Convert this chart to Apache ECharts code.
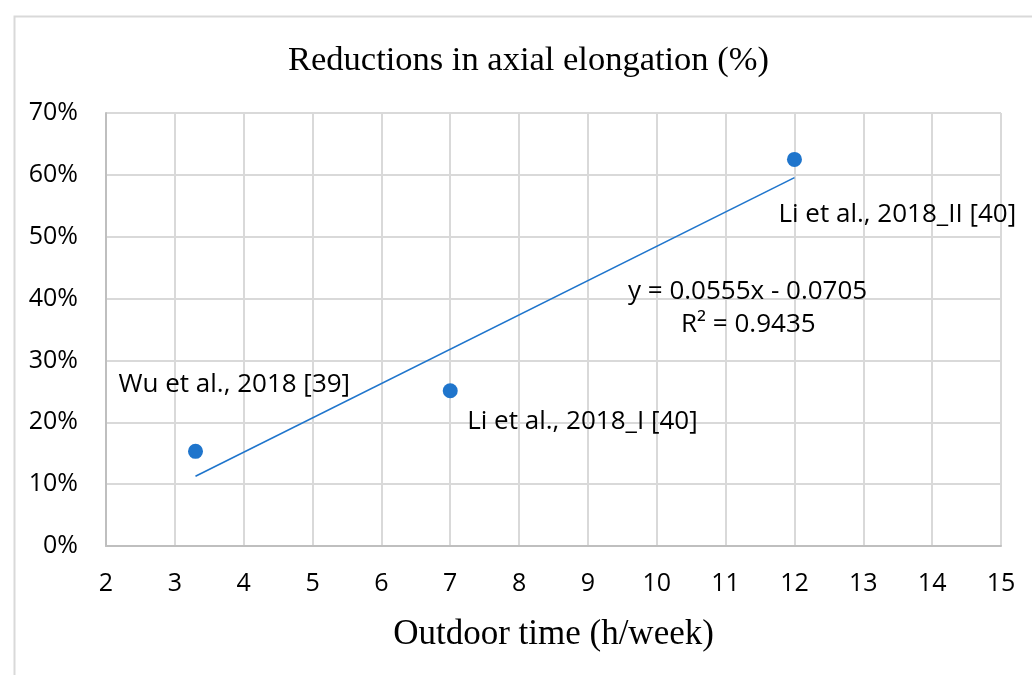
<!DOCTYPE html>
<html><head><meta charset="utf-8">
<script src="https://cdn.jsdelivr.net/npm/echarts@6/dist/echarts.min.js"></script>
<style>html,body{margin:0;padding:0;background:#fff}#c{width:1032px;height:675px}</style>
</head><body><div id="c"></div>
<script>
const studyNames = ['Wu et al., 2018 [39]', 'Li et al., 2018_I [40]', 'Li et al., 2018_II [40]'];
const outdoorHours = [3.3, 7, 12];
const reductions = [0.153, 0.251, 0.625];
const trendSlope = 0.0555, trendIntercept = -0.0705;
const trendRange = [3.3, 12];
const equationText = ['y = 0.0555x - 0.0705', 'R² = 0.9435'];

const labelOffsets = [[-77, -67], [17, 31], [-16, 55]];
const trendData = trendRange.map(x => [x, trendSlope * x + trendIntercept]);

const chart = echarts.init(document.getElementById('c'));
const sansFont = '"Open Sans", "Noto Sans", sans-serif';
const serifFont = '"Liberation Serif", serif';
chart.setOption({
  animation: false,
  title: {
    text: 'Reductions in axial elongation (%)',
    left: 283, top: 38,
    textStyle: { fontFamily: serifFont, fontSize: 34.5, fontWeight: 'normal', color: '#000' }
  },
  grid: { left: 106, right: 31, top: 113, bottom: 129 },
  xAxis: {
    type: 'value', min: 2, max: 15, interval: 1,
    name: 'Outdoor time (h/week)', nameLocation: 'middle', nameGap: 71,
    nameTextStyle: { fontFamily: serifFont, fontSize: 35, color: '#000' },
    axisLine: { lineStyle: { color: '#bfbfbf', width: 2 } },
    axisTick: { show: false },
    axisLabel: { fontFamily: sansFont, fontSize: 25, color: '#000', margin: 25 },
    splitLine: { show: true, lineStyle: { color: '#d9d9d9', width: 2 } }
  },
  yAxis: {
    type: 'value', min: 0, max: 0.7, interval: 0.1,
    axisLine: { show: true, lineStyle: { color: '#bfbfbf', width: 2 } },
    axisTick: { show: false },
    axisLabel: { fontFamily: sansFont, fontSize: 25, color: '#000', margin: 28,
      formatter: v => Math.round(v * 100) + '%' },
    splitLine: { show: true, lineStyle: { color: '#d9d9d9', width: 2 } }
  },
  series: [
    {
      type: 'line', data: trendData, showSymbol: false, symbol: 'none',
      lineStyle: { color: '#1f75cc', width: 1.6 }, silent: true, z: 2
    },
    {
      type: 'scatter', symbolSize: 15, z: 3,
      itemStyle: { color: '#1f75cc', opacity: 1 },
      data: outdoorHours.map((x, i) => ({
        value: [x, reductions[i]],
        label: {
          show: true, formatter: studyNames[i], position: 'inside',
          offset: labelOffsets[i],
          align: 'left', verticalAlign: 'middle',
          fontFamily: sansFont, fontSize: 26, color: '#000', textBorderWidth: 0
        }
      }))
    }
  ],
  graphic: [
    { type: 'rect', left: 12, top: 14, shape: { width: 1040, height: 700 },
      style: { fill: 'none', stroke: '#d9d9d9', lineWidth: 2 }, silent: true, z: -1 },
    { type: 'text', left: 628, top: 279, z: 10, style: { text: equationText[0], font: '26px ' + sansFont, fill: '#000' } },
    { type: 'text', left: 681, top: 312, z: 10, style: { text: equationText[1], font: '26px ' + sansFont, fill: '#000' } }
  ]
});
</script></body></html>
